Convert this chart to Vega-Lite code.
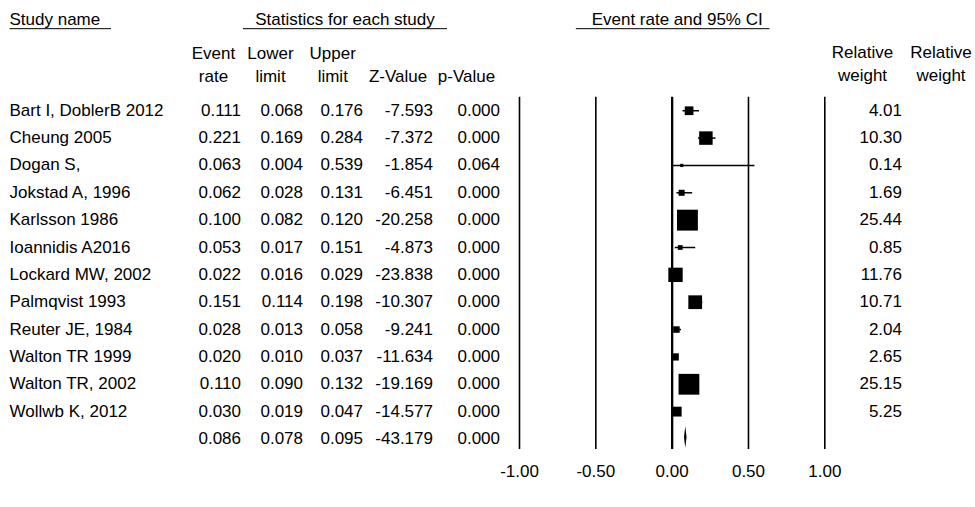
{
"$schema":"https://vega.github.io/schema/vega-lite/v6.json",
"width":975,"height":507,"autosize":{"type":"none"},"padding":0,"background":"white",
"config":{"locale":{"number":{"decimal":".","thousands":",","grouping":[3],"currency":["$",""],"minus":"-"}},"view":{"stroke":null},"text":{"font":"Liberation Sans","fontSize":17,"color":"black","baseline":"middle"},"rule":{"color":"black"},"point":{"color":"black","opacity":1}},
"datasets":{"studies":[
{"row":"Bart I, DoblerB 2012","name":"Bart I, DoblerB 2012","rate":0.111,"lower":0.068,"upper":0.176,"z":-7.593,"p":0.000,"w":4.01},
{"row":"Cheung 2005","name":"Cheung 2005","rate":0.221,"lower":0.169,"upper":0.284,"z":-7.372,"p":0.000,"w":10.30},
{"row":"Dogan S,","name":"Dogan S,","rate":0.063,"lower":0.004,"upper":0.539,"z":-1.854,"p":0.064,"w":0.14},
{"row":"Jokstad A, 1996","name":"Jokstad A, 1996","rate":0.062,"lower":0.028,"upper":0.131,"z":-6.451,"p":0.000,"w":1.69},
{"row":"Karlsson 1986","name":"Karlsson 1986","rate":0.100,"lower":0.082,"upper":0.120,"z":-20.258,"p":0.000,"w":25.44},
{"row":"Ioannidis A2016","name":"Ioannidis A2016","rate":0.053,"lower":0.017,"upper":0.151,"z":-4.873,"p":0.000,"w":0.85},
{"row":"Lockard MW, 2002","name":"Lockard MW, 2002","rate":0.022,"lower":0.016,"upper":0.029,"z":-23.838,"p":0.000,"w":11.76},
{"row":"Palmqvist 1993","name":"Palmqvist 1993","rate":0.151,"lower":0.114,"upper":0.198,"z":-10.307,"p":0.000,"w":10.71},
{"row":"Reuter JE, 1984","name":"Reuter JE, 1984","rate":0.028,"lower":0.013,"upper":0.058,"z":-9.241,"p":0.000,"w":2.04},
{"row":"Walton TR 1999","name":"Walton TR 1999","rate":0.020,"lower":0.010,"upper":0.037,"z":-11.634,"p":0.000,"w":2.65},
{"row":"Walton TR, 2002","name":"Walton TR, 2002","rate":0.110,"lower":0.090,"upper":0.132,"z":-19.169,"p":0.000,"w":25.15},
{"row":"Wollwb K, 2012","name":"Wollwb K, 2012","rate":0.030,"lower":0.019,"upper":0.047,"z":-14.577,"p":0.000,"w":5.25},
{"row":"Summary","name":"","rate":0.086,"lower":0.078,"upper":0.095,"z":-43.179,"p":0.000,"w":null}
]},
"encoding":{"y":{"field":"row","type":"nominal","axis":null,"scale":{"type":"band","domain":["h1","h2","h3","Bart I, DoblerB 2012","Cheung 2005","Dogan S,","Jokstad A, 1996","Karlsson 1986","Ioannidis A2016","Lockard MW, 2002","Palmqvist 1993","Reuter JE, 1984","Walton TR 1999","Walton TR, 2002","Wollwb K, 2012","Summary","axis"],"range":[15,480],"paddingInner":0,"paddingOuter":0}}},
"resolve":{"scale":{"x":"independent"}},
"layer":[
{"layer":[
 {"data":{"values":[{"row":"h1","t":"Study name"}]},"mark":{"type":"text","align":"left","dy":-8.7},"encoding":{"x":{"datum":"name","type":"nominal","axis":null,"scale":{"type":"point","domain":["name","nameEnd"],"range":[9.5,111],"padding":0}},"text":{"field":"t"}}},
 {"data":{"values":[{"row":"h1"}]},"mark":{"type":"rule","strokeWidth":1},"encoding":{"x":{"datum":"name","type":"nominal","axis":null,"scale":{"type":"point","domain":["name","nameEnd"],"range":[9.5,111],"padding":0}},"x2":{"datum":"nameEnd"}}},
 {"data":{"name":"studies"},"transform":[{"filter":"datum.row !== 'Summary'"}],"mark":{"type":"text","align":"left"},"encoding":{"x":{"datum":"name","type":"nominal","axis":null,"scale":{"type":"point","domain":["name","nameEnd"],"range":[9.5,111],"padding":0}},"text":{"field":"name"}}}
]},
{"layer":[
 {"data":{"values":[{"row":"h1","t":"Statistics for each study"}]},"mark":{"type":"text","dx":-25.5,"dy":-8.7},"encoding":{"x":{"datum":"upper","type":"nominal","axis":null,"scale":{"type":"point","domain":["rate","lower","upper","z","p"],"range":[241,500],"padding":0}},"text":{"field":"t"}}},
 {"data":{"values":[{"row":"h1"}]},"mark":{"type":"rule","strokeWidth":1,"xOffset":2,"x2Offset":-53},"encoding":{"x":{"datum":"rate","type":"nominal","axis":null,"scale":{"type":"point","domain":["rate","lower","upper","z","p"],"range":[241,500],"padding":0}},"x2":{"datum":"p"}}},
 {"data":{"values":[{"row":"h3","t":["Event","rate"]}]},"mark":{"type":"text","dx":-27.5,"dy":-29.4,"lineHeight":23},"encoding":{"x":{"datum":"rate","type":"nominal","axis":null,"scale":{"type":"point","domain":["rate","lower","upper","z","p"],"range":[241,500],"padding":0}},"text":{"field":"t"}}},
 {"data":{"values":[{"row":"h3","t":["Lower","limit"]}]},"mark":{"type":"text","dx":-35.25,"dy":-29.4,"lineHeight":23},"encoding":{"x":{"datum":"lower","type":"nominal","axis":null,"scale":{"type":"point","domain":["rate","lower","upper","z","p"],"range":[241,500],"padding":0}},"text":{"field":"t"}}},
 {"data":{"values":[{"row":"h3","t":["Upper","limit"]}]},"mark":{"type":"text","dx":-37.75,"dy":-29.4,"lineHeight":23},"encoding":{"x":{"datum":"upper","type":"nominal","axis":null,"scale":{"type":"point","domain":["rate","lower","upper","z","p"],"range":[241,500],"padding":0}},"text":{"field":"t"}}},
 {"data":{"values":[{"row":"h3","t":"Z-Value"}]},"mark":{"type":"text","dx":-37.25,"dy":-6.4},"encoding":{"x":{"datum":"z","type":"nominal","axis":null,"scale":{"type":"point","domain":["rate","lower","upper","z","p"],"range":[241,500],"padding":0}},"text":{"field":"t"}}},
 {"data":{"values":[{"row":"h3","t":"p-Value"}]},"mark":{"type":"text","dx":-33.5,"dy":-6.4},"encoding":{"x":{"datum":"p","type":"nominal","axis":null,"scale":{"type":"point","domain":["rate","lower","upper","z","p"],"range":[241,500],"padding":0}},"text":{"field":"t"}}},
 {"data":{"name":"studies"},"mark":{"type":"text","align":"right"},"encoding":{"x":{"datum":"rate","type":"nominal","axis":null,"scale":{"type":"point","domain":["rate","lower","upper","z","p"],"range":[241,500],"padding":0}},"text":{"field":"rate","type":"quantitative","format":".3f"}}},
 {"data":{"name":"studies"},"mark":{"type":"text","align":"right","dx":-2.75},"encoding":{"x":{"datum":"lower","type":"nominal","axis":null,"scale":{"type":"point","domain":["rate","lower","upper","z","p"],"range":[241,500],"padding":0}},"text":{"field":"lower","type":"quantitative","format":".3f"}}},
 {"data":{"name":"studies"},"mark":{"type":"text","align":"right","dx":-7.5},"encoding":{"x":{"datum":"upper","type":"nominal","axis":null,"scale":{"type":"point","domain":["rate","lower","upper","z","p"],"range":[241,500],"padding":0}},"text":{"field":"upper","type":"quantitative","format":".3f"}}},
 {"data":{"name":"studies"},"mark":{"type":"text","align":"right","dx":-2.25},"encoding":{"x":{"datum":"z","type":"nominal","axis":null,"scale":{"type":"point","domain":["rate","lower","upper","z","p"],"range":[241,500],"padding":0}},"text":{"field":"z","type":"quantitative","format":".3f"}}},
 {"data":{"name":"studies"},"mark":{"type":"text","align":"right"},"encoding":{"x":{"datum":"p","type":"nominal","axis":null,"scale":{"type":"point","domain":["rate","lower","upper","z","p"],"range":[241,500],"padding":0}},"text":{"field":"p","type":"quantitative","format":".3f"}}}
]},
{"layer":[
 {"data":{"values":[{"v":-1,"row":"Bart I, DoblerB 2012","row2":"Summary"},{"v":-0.5,"row":"Bart I, DoblerB 2012","row2":"Summary"},{"v":0,"row":"Bart I, DoblerB 2012","row2":"Summary"},{"v":0.5,"row":"Bart I, DoblerB 2012","row2":"Summary"},{"v":1,"row":"Bart I, DoblerB 2012","row2":"Summary"}]},
  "mark":{"type":"rule","yOffset":-14,"y2Offset":10},
  "encoding":{"x":{"field":"v","type":"quantitative","axis":null,"scale":{"domain":[-1,1],"range":[519.5,824.8],"nice":false,"zero":false}},"y2":{"field":"row2"},"strokeWidth":{"condition":{"test":"datum.v === 0","value":2.3},"value":1.6}}},
 {"data":{"name":"studies"},"transform":[{"filter":"datum.row !== 'Summary'"}],"mark":{"type":"rule","strokeWidth":1.5},"encoding":{"x":{"field":"lower","type":"quantitative","axis":null,"scale":{"domain":[-1,1],"range":[519.5,824.8],"nice":false,"zero":false}},"x2":{"field":"upper"}}},
 {"data":{"name":"studies"},"transform":[{"filter":"datum.row !== 'Summary'"}],"mark":{"type":"point","shape":"square","filled":true,"opacity":1,"strokeWidth":0},"encoding":{"x":{"field":"rate","type":"quantitative","axis":null,"scale":{"domain":[-1,1],"range":[519.5,824.8],"nice":false,"zero":false}},"size":{"field":"w","type":"quantitative","legend":null,"scale":{"domain":[0,25.44],"range":[8,437]}}}},
 {"data":{"name":"studies"},"transform":[{"filter":"datum.row === 'Summary'"}],"mark":{"type":"point","shape":"M-0.12,0L0,-1L0.12,0L0,1Z","filled":true,"opacity":1,"size":466,"yOffset":-2,"strokeWidth":0},"encoding":{"x":{"field":"rate","type":"quantitative","axis":null,"scale":{"domain":[-1,1],"range":[519.5,824.8],"nice":false,"zero":false}}}},
 {"data":{"values":[{"v":-1,"t":"-1.00","row":"axis"},{"v":-0.5,"t":"-0.50","row":"axis"},{"v":0,"t":"0.00","row":"axis"},{"v":0.5,"t":"0.50","row":"axis"},{"v":1,"t":"1.00","row":"axis"}]},"mark":{"type":"text","dy":5.5},"encoding":{"x":{"field":"v","type":"quantitative","axis":null,"scale":{"domain":[-1,1],"range":[519.5,824.8],"nice":false,"zero":false}},"text":{"field":"t"}}},
 {"data":{"values":[{"row":"h1","t":"Event rate and 95% CI"}]},"mark":{"type":"text","dx":5,"dy":-8.7},"encoding":{"x":{"datum":0,"type":"quantitative","axis":null,"scale":{"domain":[-1,1],"range":[519.5,824.8],"nice":false,"zero":false}},"text":{"field":"t"}}},
 {"data":{"values":[{"row":"h1"}]},"mark":{"type":"rule","strokeWidth":1,"xOffset":-20,"x2Offset":21},"encoding":{"x":{"datum":-0.5,"type":"quantitative","axis":null,"scale":{"domain":[-1,1],"range":[519.5,824.8],"nice":false,"zero":false}},"x2":{"datum":0.5}}}
]},
{"layer":[
 {"data":{"values":[{"c":"w1","row":"h3","t":["Relative","weight"]},{"c":"w2","row":"h3","t":["Relative","weight"]}]},"mark":{"type":"text","dy":-29.9,"lineHeight":23},"encoding":{"x":{"field":"c","type":"nominal","axis":null,"scale":{"type":"point","domain":["w1","w2"],"range":[862.5,941],"padding":0}},"text":{"field":"t"}}},
 {"data":{"name":"studies"},"transform":[{"filter":"isValid(datum.w)"}],"mark":{"type":"text","align":"right","dx":39.5},"encoding":{"x":{"datum":"w1","type":"nominal","axis":null,"scale":{"type":"point","domain":["w1","w2"],"range":[862.5,941],"padding":0}},"text":{"field":"w","type":"quantitative","format":".2f"}}}
]}
]
}
